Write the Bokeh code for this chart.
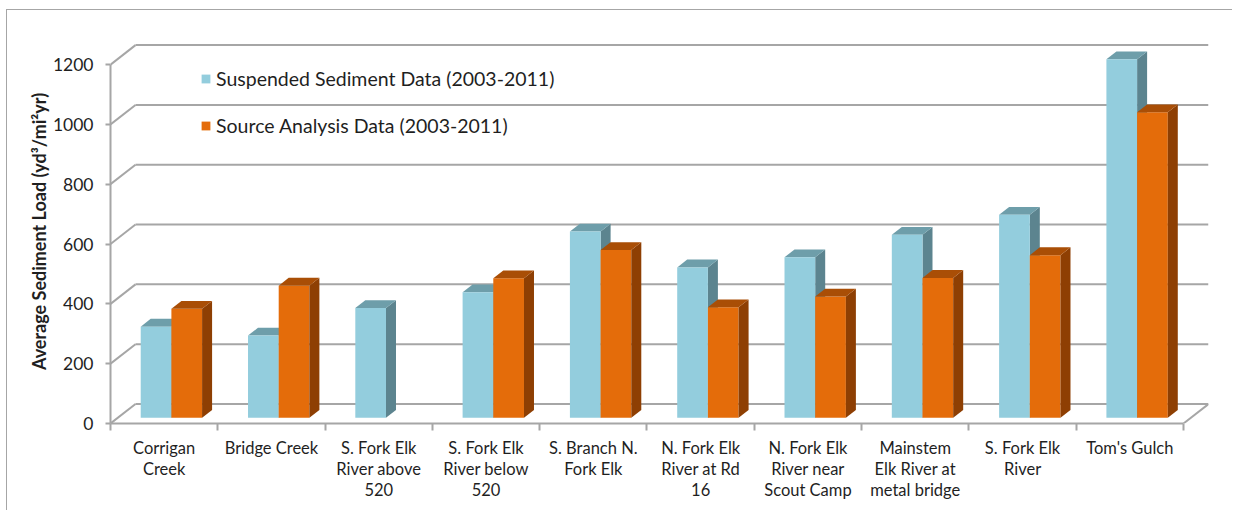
import math
from bokeh.plotting import figure
from bokeh.models import Range1d, FixedTicker, Legend, LegendItem, LinearAxis
from bokeh.embed import file_html
from bokeh.resources import INLINE

# ---------------- data ----------------
categories = [
    "Corrigan\nCreek",
    "Bridge Creek",
    "S. Fork Elk\nRiver above\n520",
    "S. Fork Elk\nRiver below\n520",
    "S. Branch N.\nFork Elk",
    "N. Fork Elk\nRiver at Rd\n16",
    "N. Fork Elk\nRiver near\nScout Camp",
    "Mainstem\nElk River at\nmetal bridge",
    "S. Fork Elk\nRiver",
    "Tom's Gulch",
]
suspended = [305, 275, 367, 420, 623, 503, 537, 612, 679, 1199]
source = [365, 442, float("nan"), 467, 561, 370, 406, 468, 544, 1022]
series_names = ["Suspended Sediment Data (2003-2011)", "Source Analysis Data (2003-2011)"]
y_ticks = [0, 200, 400, 600, 800, 1000, 1200]

# ---------------- styling / 3D projection ----------------
DX = 0.233      # full depth, in category units
DY = 65.2       # full depth, in value units
D0, D1 = 0.29, 0.69   # bar depth extent (fraction of full depth)
BW = 0.286      # bar width per series (category units)
FONT = "Lato"
TXT = "#1f1f1f"
GRID = "#a6a6a6"

front_cols = ["#93CDDD", "#E46C0A"]
side_cols = ["#5C848F", "#8E3F03"]
top_cols = ["#6E9EAA", "#A94E06"]

n = len(categories)
x_end = n + DX
p = figure(width=1226, height=501, output_backend="svg", toolbar_location=None,
           x_range=Range1d(0, x_end), y_range=Range1d(0, 1284),
           min_border_left=103, min_border_right=25, min_border_top=29, min_border_bottom=88,
           x_axis_type=None, y_axis_type=None)
p.outline_line_color = None
p.xgrid.visible = False
p.ygrid.visible = False
p.background_fill_color = "white"
p.border_fill_color = "white"
p.styles = {"border-top": "1px solid #a6a6a6", "border-left": "1px solid #a6a6a6",
            "margin-left": "6px", "margin-top": "9px"}

# ---- walls: back gridlines, left-wall slants, floor right edge ----
p.segment(x0=[DX] * len(y_ticks), x1=[n + DX] * len(y_ticks),
          y0=[v + DY for v in y_ticks], y1=[v + DY for v in y_ticks],
          line_color=GRID, line_width=2)
p.segment(x0=[0] * len(y_ticks), x1=[DX] * len(y_ticks),
          y0=y_ticks, y1=[v + DY for v in y_ticks],
          line_color=GRID, line_width=2)
p.segment(x0=[n], x1=[n + DX], y0=[0], y1=[DY], line_color=GRID, line_width=2)

# ---- bars ----
front_renderers = []
dd = D1 - D0
for s, vals in enumerate([suspended, source]):
    fl, fr, fb, ft = [], [], [], []
    sx, sy, tx, ty = [], [], [], []
    for i, v in enumerate(vals):
        if v is None or (isinstance(v, float) and math.isnan(v)):
            continue
        xl = i + 0.5 - BW + s * BW + D0 * DX
        xr = xl + BW
        b = D0 * DY
        t = v + D0 * DY
        fl.append(xl); fr.append(xr); fb.append(b); ft.append(t)
        sx.append([xr, xr + dd * DX, xr + dd * DX, xr])
        sy.append([b, b + dd * DY, t + dd * DY, t])
        tx.append([xl, xl + dd * DX, xr + dd * DX, xr])
        ty.append([t, t + dd * DY, t + dd * DY, t])
    if s == 0:
        p.patches(xs=sx, ys=sy, fill_color=side_cols[s], line_color=None)
        p.patches(xs=tx, ys=ty, fill_color=top_cols[s], line_color=None)
        r = p.quad(left=fl, right=fr, bottom=fb, top=ft, fill_color=front_cols[s], line_color=None)
    else:
        r = p.quad(left=fl, right=fr, bottom=fb, top=ft, fill_color=front_cols[s], line_color=None)
        p.patches(xs=sx, ys=sy, fill_color=side_cols[s], line_color=None)
        p.patches(xs=tx, ys=ty, fill_color=top_cols[s], line_color=None)
    front_renderers.append(r)

# ---- axes ----
yax = LinearAxis(ticker=FixedTicker(ticks=y_ticks), bounds=(0, 1200),
                 axis_label="Average Sediment Load (yd³/mi²yr)")
yax.axis_line_color = GRID
yax.axis_line_width = 2
yax.major_tick_line_color = GRID
yax.major_tick_line_width = 2
yax.major_tick_out = 5
yax.major_tick_in = 0
yax.minor_tick_line_color = None
yax.major_label_standoff = 12
yax.major_label_text_font = FONT
yax.major_label_text_font_size = "17.5px"
yax.major_label_text_color = TXT
yax.axis_label_text_font = FONT
yax.axis_label_text_font_size = "18px"
yax.axis_label_text_font_style = "bold"
yax.axis_label_text_color = TXT
yax.axis_label_standoff = 0
p.add_layout(yax, "left")

centers = [i + 0.5 for i in range(n)]
bounds_ticks = [float(i) for i in range(n + 1)]
xax = LinearAxis(ticker=FixedTicker(ticks=centers, minor_ticks=bounds_ticks), bounds=(0, n))
xax.major_label_overrides = {c: lab for c, lab in zip(centers, categories)}
xax.axis_line_color = GRID
xax.axis_line_width = 2
xax.major_tick_line_color = None
xax.major_tick_out = 0
xax.major_tick_in = 0
xax.minor_tick_line_color = GRID
xax.minor_tick_line_width = 2
xax.minor_tick_out = 7
xax.minor_tick_in = 0
xax.major_label_standoff = 7
xax.major_label_text_font = FONT
xax.major_label_text_font_size = "16.5px"
xax.major_label_text_color = TXT
xax.major_label_text_line_height = 1.05
p.add_layout(xax, "below")

# ---- legend ----
legend = Legend(items=[LegendItem(label=series_names[k], renderers=[front_renderers[k]]) for k in range(2)],
                location=(90, 286), orientation="vertical")
legend.glyph_width = 11
legend.glyph_height = 11
legend.label_standoff = 5
legend.spacing = 24
legend.padding = 0
legend.margin = 0
legend.border_line_color = None
legend.background_fill_alpha = 0
legend.label_text_font = FONT
legend.label_text_font_size = "19.5px"
legend.label_text_color = TXT
p.add_layout(legend)

open("out.html", "w").write(file_html(p, INLINE))
